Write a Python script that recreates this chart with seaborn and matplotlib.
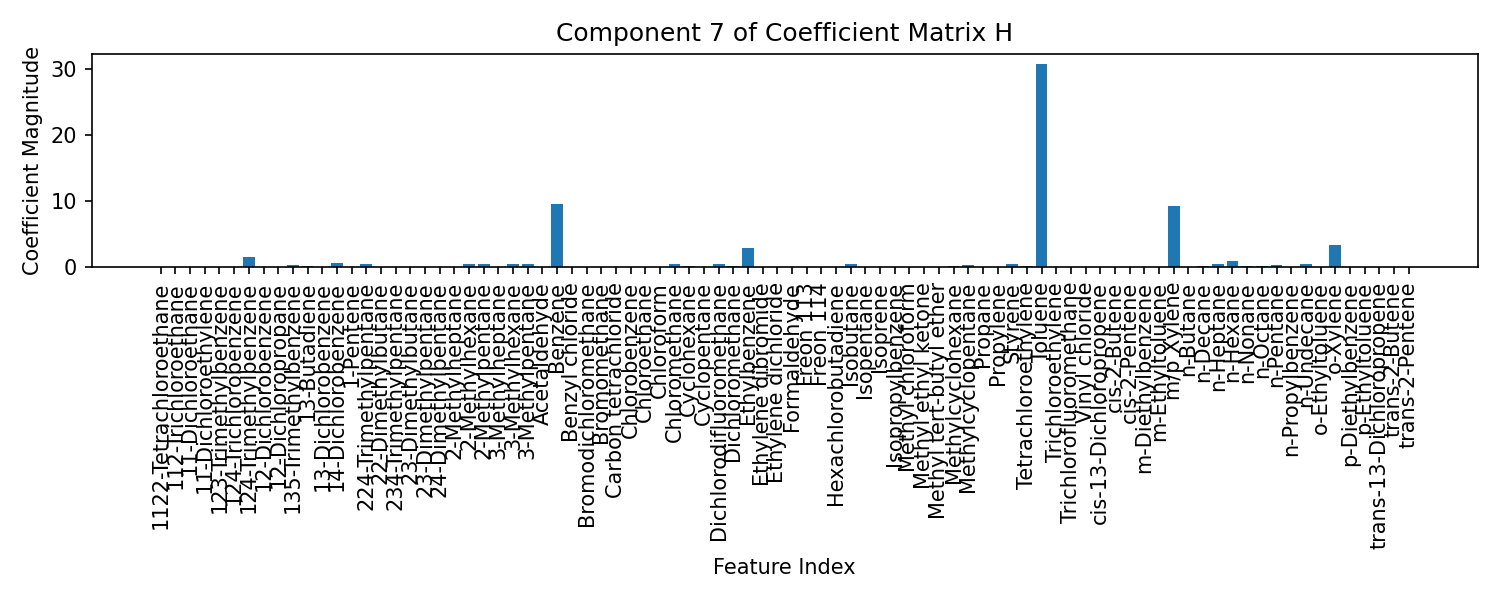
import numpy as np
import pandas as pd
import seaborn as sns
import matplotlib
matplotlib.use("Agg")
import matplotlib.pyplot as plt

# feature names (x tick labels)
features = [
    "1122-Tetrachloroethane", "112-Trichloroethane", "11-Dichloroethane",
    "11-Dichloroethylene", "123-Trimethylbenzene", "124-Trichlorobenzene",
    "124-Trimethylbenzene", "12-Dichlorobenzene", "12-Dichloropropane",
    "135-Trimethylbenzene", "13-Butadiene", "13-Dichlorobenzene",
    "14-Dichlorobenzene", "1-Pentene", "224-Trimethylpentane",
    "22-Dimethylbutane", "234-Trimethylpentane", "23-Dimethylbutane",
    "23-Dimethylpentane", "24-Dimethylpentane", "2-Methylheptane",
    "2-Methylhexane", "2-Methylpentane", "3-Methylheptane", "3-Methylhexane",
    "3-Methylpentane", "Acetaldehyde", "Benzene", "Benzyl chloride",
    "Bromodichloromethane", "Bromomethane", "Carbon tetrachloride",
    "Chlorobenzene", "Chloroethane", "Chloroform", "Chloromethane",
    "Cyclohexane", "Cyclopentane", "Dichlorodifluoromethane",
    "Dichloromethane", "Ethylbenzene", "Ethylene dibromide",
    "Ethylene dichloride", "Formaldehyde", "Freon 113", "Freon 114",
    "Hexachlorobutadiene", "Isobutane", "Isopentane", "Isoprene",
    "Isopropylbenzene", "Methyl chloroform", "Methyl ethyl ketone",
    "Methyl tert-butyl ether", "Methylcyclohexane", "Methylcyclopentane",
    "Propane", "Propylene", "Styrene", "Tetrachloroethylene", "Toluene",
    "Trichloroethylene", "Trichlorofluoromethane", "Vinyl chloride",
    "cis-13-Dichloropropene", "cis-2-Butene", "cis-2-Pentene",
    "m-Diethylbenzene", "m-Ethyltoluene", "m/p Xylene", "n-Butane",
    "n-Decane", "n-Heptane", "n-Hexane", "n-Nonane", "n-Octane", "n-Pentane",
    "n-Propylbenzene", "n-Undecane", "o-Ethyltoluene", "o-Xylene",
    "p-Diethylbenzene", "p-Ethyltoluene", "trans-13-Dichloropropene",
    "trans-2-Butene", "trans-2-Pentene",
]

# component 7 coefficients
coef = [
    0.0, 0.0, 0.0, 0.0, 0.0, 0.0, 1.62, 0.0, 0.0, 0.4,
    0.25, 0.0, 0.7, 0.0, 0.55, 0.05, 0.05, 0.05, 0.05, 0.0,
    0.05, 0.56, 0.56, 0.05, 0.56, 0.56, 0.0, 9.5, 0.0, 0.0,
    0.0, 0.05, 0.0, 0.0, 0.0, 0.56, 0.25, 0.05, 0.56, 0.25,
    2.98, 0.0, 0.0, 0.0, 0.05, 0.0, 0.0, 0.56, 0.0, 0.0,
    0.0, 0.0, 0.0, 0.0, 0.25, 0.4, 0.0, 0.0, 0.56, 0.25,
    30.7, 0.0, 0.05, 0.0, 0.0, 0.0, 0.0, 0.0, 0.0, 9.2,
    0.0, 0.25, 0.56, 1.0, 0.25, 0.25, 0.4, 0.0, 0.56, 0.0,
    3.43, 0.0, 0.0, 0.0, 0.0, 0.05,
]

df = pd.DataFrame({"feature": features, "coef": coef})

fig, ax = plt.subplots(figsize=(10, 4), dpi=150)
sns.barplot(data=df, x="feature", y="coef", color="#1f77b4",
            saturation=1, width=0.8, ax=ax)

# same side margins as a plain plt.bar
n = len(features)
span = (n - 1) + 0.8
ax.set_xlim(-0.4 - 0.05 * span, n - 1 + 0.4 + 0.05 * span)

ax.tick_params(axis="x", labelrotation=90)
ax.set_title("Component 7 of Coefficient Matrix H")
ax.set_xlabel("Feature Index")
ax.set_ylabel("Coefficient Magnitude")
plt.tight_layout()
plt.savefig("out.png")
